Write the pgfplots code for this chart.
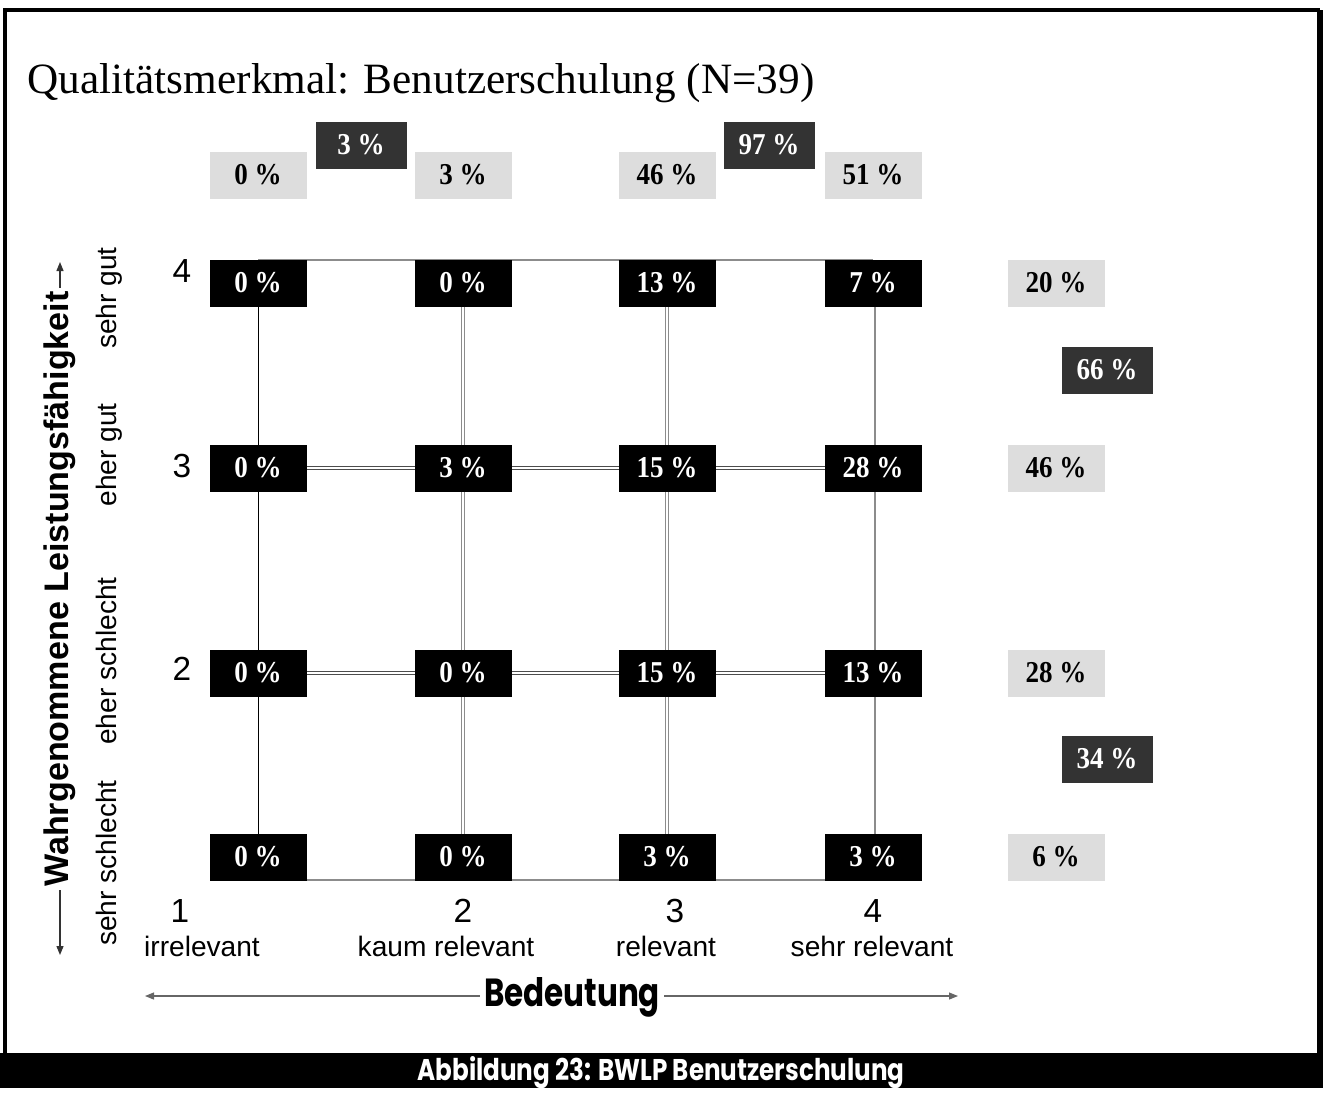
\documentclass[border=0pt]{standalone}
\usepackage{fontspec}
\setmainfont{Liberation Serif}
\newfontfamily\arial{Liberation Sans}
\newfontfamily\gothic{Poppins}
\usepackage{graphicx}
\usepackage{pgfplots}
\pgfplotsset{compat=1.18}
\usepackage{pgfplotstable}
\usetikzlibrary{arrows.meta}
\definecolor{lightbox}{HTML}{DDDDDD}
\definecolor{darkbox}{HTML}{333333}
\definecolor{gridgray}{HTML}{8C8C8C}

% cell shares: column x (Bedeutung 1..4), row y (Leistung 4..1), value in %
\pgfplotstableread{
x   y   v
258 283 0
463 283 0
667 283 13
873 283 7
258 468 0
463 468 3
667 468 15
873 468 28
258 673 0
463 673 0
667 673 15
873 673 13
258 857 0
463 857 0
667 857 3
873 857 3
}\cells

% column and row sums
\pgfplotstableread{
x    y   v
258  175 0
463  175 3
667  175 46
873  175 51
1056 283 20
1056 468 46
1056 673 28
1056 857 6
}\margins

% grouped sums
\pgfplotstableread{
x    y   v
361  145 3
769  145 97
1107 370 66
1107 759 34
}\groups

\pgfplotsset{
  box/.style={draw=none, mark=none, point meta=explicit symbolic,
    nodes near coords={\scalebox{1}[1.12]{\pgfplotspointmeta~\%}},
    nodes near coords style={anchor=center, inner sep=0pt,
      minimum height=4.7mm, font=\fontsize{7.7}{8}\selectfont\bfseries}},
  dbl/.style={draw=gridgray, line width=0.1mm, double=white, double distance=0.2mm},
}

\begin{document}
\begin{tikzpicture}
\begin{axis}[
  width=13.28cm, height=10.88cm, scale only axis,
  xmin=0, xmax=1328, ymin=0, ymax=1088, y dir=reverse,
  axis lines=none, clip=false]

% frame and caption bar
\path (0,0) rectangle (1328,1088);
\fill[black] (0,1053) rectangle (1323,1088);
\draw[line width=0.4mm] (5,1053) -- (5,10) -- (1320,10);
\draw[line width=0.6mm] (1320,10) -- (1320,1053);
\node[text=white, anchor=center] at (661,1073)
  {\resizebox{48.7mm}{2.4mm}{\gothic\bfseries Abbildung 23: BWLP Benutzerschulung}};

% title
\node[anchor=base west, inner sep=0pt, font=\fontsize{12.3}{14}\selectfont]
  at (27,93) {Qualitätsmerkmal: Benutzerschulung (N=39)};

% grid lines
\addplot[gridgray, line width=0.12mm] coordinates {(258,260) (873,260)};
\addplot[gridgray, line width=0.12mm] coordinates {(258,880) (873,880)};
\addplot[black, line width=0.1mm] coordinates {(258,260) (258,880)};
\addplot[gridgray, line width=0.12mm] coordinates {(875,260) (875,880)};
\addplot[dbl] coordinates {(463,260) (463,880)};
\addplot[dbl] coordinates {(667,260) (667,880)};
\addplot[dbl, draw=black!70] coordinates {(258,468) (873,468)};
\addplot[dbl, draw=black!70] coordinates {(258,673) (873,673)};

% boxes
\addplot[box, nodes near coords style={fill=black, text=white, minimum width=9.7mm}]
  table[x=x, y=y, meta=v] {\cells};
\addplot[box, nodes near coords style={fill=lightbox, text=black, minimum width=9.7mm}]
  table[x=x, y=y, meta=v] {\margins};
\addplot[box, nodes near coords style={fill=darkbox, text=white, minimum width=9.1mm}]
  table[x=x, y=y, meta=v] {\groups};

% axis texts
\begin{scope}[font=\arial\fontsize{9.5}{11}\selectfont]
  \node[anchor=base] at (182,282) {4};
  \node[anchor=base] at (182,477) {3};
  \node[anchor=base] at (182,680) {2};
  \node[anchor=base] at (180,922) {1};
  \node[anchor=base] at (463,922) {2};
  \node[anchor=base] at (675,922) {3};
  \node[anchor=base] at (873,922) {4};
\end{scope}
\begin{scope}[font=\arial\fontsize{8}{10}\selectfont]
  \node[anchor=base] at (202,956) {irrelevant};
  \node[anchor=base] at (446,956) {kaum relevant};
  \node[anchor=base] at (666,956) {relevant};
  \node[anchor=base] at (872,956) {sehr relevant};
  \node[anchor=base, rotate=90] at (116,298) {sehr gut};
  \node[anchor=base, rotate=90] at (116,455) {eher gut};
  \node[anchor=base, rotate=90] at (116,661) {eher schlecht};
  \node[anchor=base, rotate=90] at (116,863) {sehr schlecht};
\end{scope}

% axis arrows
\addplot[black!80, line width=0.12mm, {Triangle[length=0.9mm,width=0.7mm]}-{Triangle[length=0.9mm,width=0.7mm]}]
  coordinates {(60,955) (60,262)};
\node[fill=white, inner xsep=1pt, inner ysep=0pt, anchor=base, rotate=90,
  font=\arial\bfseries\fontsize{9.7}{11}\selectfont] at (68,589)
  {Wahrgenommene Leistungsfähigkeit};
\addplot[black!60, line width=0.12mm, {Triangle[length=0.9mm,width=0.7mm]}-{Triangle[length=0.9mm,width=0.7mm]}]
  coordinates {(145,996) (958,996)};
\node[fill=white, inner xsep=1pt, inner ysep=0pt, anchor=center] at (572,997)
  {\resizebox{17.6mm}{2.9mm}{\gothic\bfseries Bedeutung}};

\end{axis}
\end{tikzpicture}
\end{document}
